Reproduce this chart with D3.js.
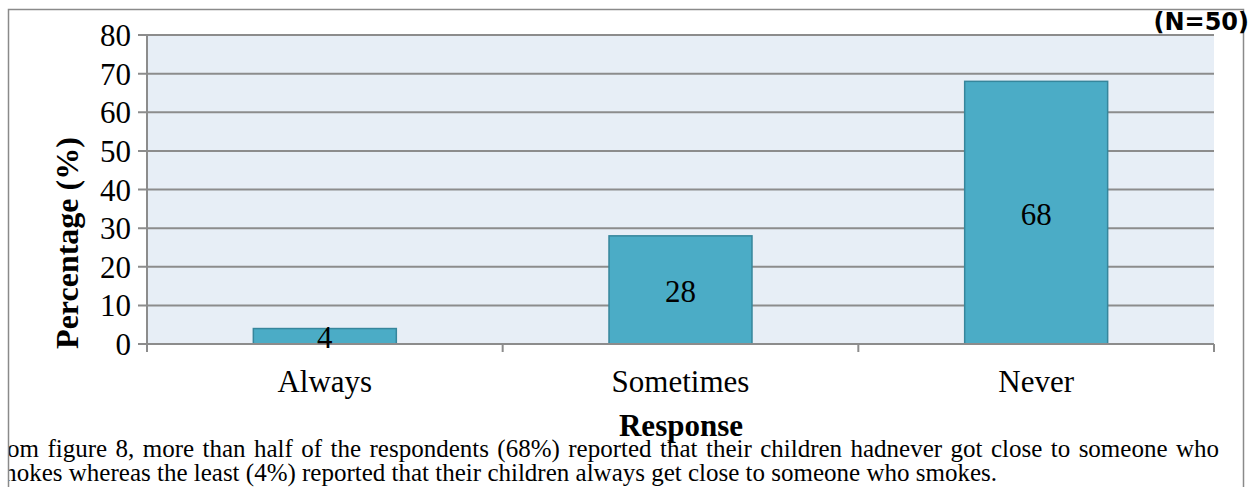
<!DOCTYPE html>
<html>
<head>
<meta charset="utf-8">
<script src="https://cdn.jsdelivr.net/npm/d3@7"></script>
<style>
  html, body { margin: 0; padding: 0; background: #ffffff; }
  svg { display: block; }
</style>
</head>
<body>
<svg id="chart" width="1257" height="487"></svg>
<script>
// Responses and percentages
const categories = ["Always", "Sometimes", "Never"];
const percentages = [4, 28, 68];
const yTicks = [0, 10, 20, 30, 40, 50, 60, 70, 80];
const sampleNote = "(N=50)";
const yTitle = "Percentage (%)";
const xTitle = "Response";
const captionLines = [
  "From figure 8, more than half of the respondents (68%) reported that their children hadnever got close to someone who",
  "smokes whereas the least (4%) reported that their children always get close to someone who smokes."
];

const svg = d3.select("#chart");
const serif = "'Liberation Serif', 'Times New Roman', serif";
const plot = { left: 147, right: 1214, top: 35, bottom: 344 };

// Caption text is hidden to the left of the chart frame
svg.append("defs").append("clipPath").attr("id", "caption-clip")
  .append("rect").attr("x", 8).attr("y", 0).attr("width", 1249).attr("height", 487);

// Scales
const x = d3.scaleBand().domain(categories).range([plot.left, plot.right]).paddingInner(0.598).paddingOuter(0.299);
const xb = d3.scaleBand().domain(categories).range([plot.left, plot.right]).padding(0);
const y = d3.scaleLinear().domain([0, 80]).range([plot.bottom, plot.top]);

// Plot area background
svg.append("rect")
  .attr("x", plot.left).attr("y", plot.top)
  .attr("width", plot.right - plot.left).attr("height", plot.bottom - plot.top)
  .attr("fill", "#e7eef6");

// Horizontal gridlines with short ticks to the left
svg.append("g").selectAll("line").data(yTicks).join("line")
  .attr("x1", plot.left - 9).attr("x2", plot.right)
  .attr("y1", d => y(d)).attr("y2", d => y(d))
  .attr("stroke", "#8c8c8c").attr("stroke-width", 2);

// Y axis line
svg.append("line")
  .attr("x1", plot.left).attr("x2", plot.left)
  .attr("y1", plot.top).attr("y2", plot.bottom + 8)
  .attr("stroke", "#8c8c8c").attr("stroke-width", 2);

// Category boundary ticks on the x axis
const boundaries = categories.map(c => xb(c)).concat([plot.right]);
svg.append("g").selectAll("line").data(boundaries).join("line")
  .attr("x1", d => d).attr("x2", d => d)
  .attr("y1", plot.bottom).attr("y2", plot.bottom + 8)
  .attr("stroke", "#8c8c8c").attr("stroke-width", 2);

// Y tick labels
svg.append("g").selectAll("text").data(yTicks).join("text")
  .attr("x", 131).attr("y", d => y(d) + 11)
  .attr("text-anchor", "end")
  .attr("font-family", serif).attr("font-size", 31)
  .attr("fill", "#000")
  .text(d => d);

// Bars
svg.append("g").selectAll("rect").data(percentages).join("rect")
  .attr("x", (d, i) => x(categories[i]))
  .attr("y", d => y(d))
  .attr("width", x.bandwidth())
  .attr("height", d => y(0) - y(d))
  .attr("fill", "#4bacc6")
  .attr("stroke", "#36869c").attr("stroke-width", 1.5);

// Redraw the baseline over the bars
svg.append("line")
  .attr("x1", plot.left).attr("x2", plot.right)
  .attr("y1", y(0)).attr("y2", y(0))
  .attr("stroke", "#8c8c8c").attr("stroke-width", 2);

// Value labels centred in bars
svg.append("g").selectAll("text").data(percentages).join("text")
  .attr("x", (d, i) => x(categories[i]) + x.bandwidth() / 2)
  .attr("y", d => (y(d) + y(0)) / 2 + 12)
  .attr("text-anchor", "middle")
  .attr("font-family", serif).attr("font-size", 31)
  .attr("fill", "#000")
  .text(d => d);

// Category labels
svg.append("g").selectAll("text").data(categories).join("text")
  .attr("x", d => x(d) + x.bandwidth() / 2)
  .attr("y", 392)
  .attr("text-anchor", "middle")
  .attr("font-family", serif).attr("font-size", 31)
  .attr("fill", "#000")
  .text(d => d);

// Axis titles
svg.append("text")
  .attr("transform", "translate(78,243) rotate(-90)")
  .attr("text-anchor", "middle")
  .attr("font-family", serif).attr("font-size", 32).attr("font-weight", "bold")
  .attr("fill", "#000")
  .text(yTitle);

svg.append("text")
  .attr("x", 681).attr("y", 436)
  .attr("text-anchor", "middle")
  .attr("font-family", serif).attr("font-size", 31).attr("font-weight", "bold")
  .attr("fill", "#000")
  .text(xTitle);

// Caption paragraph below the chart: the last line keeps natural spacing,
// the first line is justified by widening the word gaps.
function measure(str, size) {
  const t = svg.append("text").attr("font-family", serif).attr("font-size", size).text(str);
  const w = t.node().getComputedTextLength();
  t.remove();
  return w;
}
const capSize = 25;
const x1 = 7 - measure("Fr", capSize);
const natural1 = measure(captionLines[0], capSize);
const gaps1 = captionLines[0].split(" ").length - 1;
const wordGap = Math.max(0, (1219 - x1 - natural1) / gaps1);

const caption = svg.append("g").attr("clip-path", "url(#caption-clip)");
caption.append("text")
  .attr("x", x1).attr("y", 457)
  .attr("font-family", serif).attr("font-size", capSize)
  .attr("word-spacing", wordGap)
  .attr("fill", "#000")
  .text(captionLines[0]);

caption.append("text")
  .attr("x", 997).attr("y", 481)
  .attr("text-anchor", "end")
  .attr("font-family", serif).attr("font-size", capSize)
  .attr("fill", "#000")
  .text(captionLines[1]);

// Outer chart frame
svg.append("rect")
  .attr("x", 8.5).attr("y", 9.5)
  .attr("width", 1235).attr("height", 500)
  .attr("fill", "none").attr("stroke", "#8a8a8a").attr("stroke-width", 1.5);

// Sample size note
svg.append("text")
  .attr("x", 1249).attr("y", 30)
  .attr("text-anchor", "end")
  .attr("font-family", "'DejaVu Sans', Verdana, sans-serif").attr("font-size", 24).attr("font-weight", "bold")
  .attr("fill", "#000")
  .text(sampleNote);
</script>
</body>
</html>
